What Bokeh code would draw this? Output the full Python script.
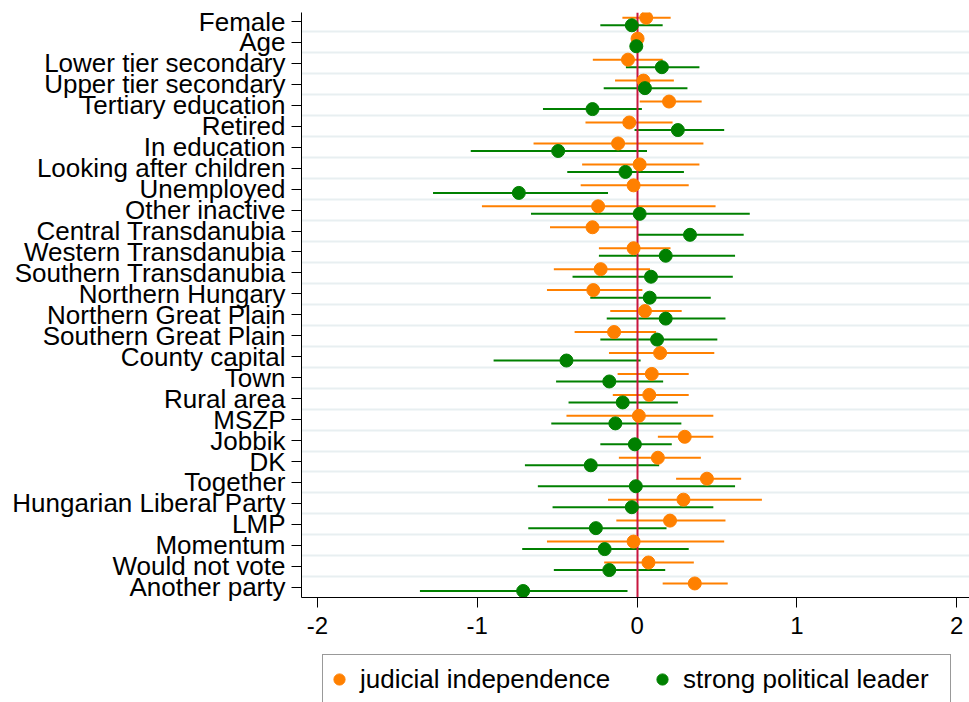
from bokeh.plotting import figure
from bokeh.layouts import column
from bokeh.models import (ColumnDataSource, Range1d, FixedTicker, Legend, LegendItem)
from bokeh.embed import file_html
from bokeh.resources import INLINE

# Covariates, listed top to bottom
categories = [
    "Female", "Age", "Lower tier secondary", "Upper tier secondary",
    "Tertiary education", "Retired", "In education", "Looking after children",
    "Unemployed", "Other inactive", "Central Transdanubia", "Western Transdanubia",
    "Southern Transdanubia", "Northern Hungary", "Northern Great Plain",
    "Southern Great Plain", "County capital", "Town", "Rural area", "MSZP",
    "Jobbik", "DK", "Together", "Hungarian Liberal Party", "LMP", "Momentum",
    "Would not vote", "Another party",
]

# Judicial independence: point estimate and 95% interval
ji_coef = [0.057, 0.003, -0.057, 0.040, 0.200, -0.049, -0.119, 0.016, -0.022, -0.244,
           -0.279, -0.022, -0.228, -0.274, 0.049, -0.144, 0.144, 0.092, 0.076, 0.011,
           0.298, 0.130, 0.437, 0.290, 0.206, -0.022, 0.071, 0.361]
ji_lo = [-0.092, -0.010, -0.277, -0.138, 0.016, -0.323, -0.648, -0.344, -0.353, -0.971,
         -0.545, -0.239, -0.521, -0.564, -0.168, -0.391, -0.176, -0.122, -0.152, -0.442,
         0.130, -0.114, 0.244, -0.182, -0.130, -0.564, -0.206, 0.160]
ji_hi = [0.210, 0.015, 0.160, 0.230, 0.404, 0.222, 0.415, 0.390, 0.323, 0.491,
         0.000, 0.209, 0.081, 0.033, 0.279, 0.119, 0.483, 0.323, 0.323, 0.477,
         0.477, 0.399, 0.651, 0.781, 0.553, 0.545, 0.355, 0.567]

# Strong political leader: point estimate and 95% interval
spl_coef = [-0.033, -0.005, 0.155, 0.049, -0.279, 0.255, -0.494, -0.073, -0.740, 0.016,
            0.331, 0.179, 0.087, 0.079, 0.179, 0.125, -0.442, -0.174, -0.090, -0.136,
            -0.014, -0.290, -0.008, -0.033, -0.258, -0.203, -0.174, -0.713]
spl_lo = [-0.230, -0.017, -0.070, -0.209, -0.589, -0.016, -1.041, -0.437, -1.277, -0.664,
          0.005, -0.239, -0.404, -0.293, -0.190, -0.230, -0.898, -0.507, -0.429, -0.537,
          -0.230, -0.702, -0.621, -0.529, -0.681, -0.719, -0.521, -1.359]
spl_hi = [0.160, 0.007, 0.390, 0.315, 0.030, 0.545, 0.062, 0.293, -0.182, 0.705,
          0.667, 0.613, 0.599, 0.461, 0.553, 0.502, 0.022, 0.163, 0.255, 0.277,
          0.217, 0.138, 0.613, 0.477, 0.184, 0.323, 0.176, -0.060]

x_ticks = [-2, -1, 0, 1, 2]
x_tick_labels = ["-2", "-1", "0", "1", "2"]

series_names = ["judicial independence", "strong political leader"]

ORANGE = "#ff8000"
GREEN = "#008000"
ZERO_RED = "#c8163f"
FONT = "Liberation Sans"

n = len(categories)
rows = [n - i for i in range(n)]          # first category on top
offset = 0.18

ji_src = ColumnDataSource(dict(
    y=[r + offset for r in rows], coef=ji_coef, lo=ji_lo, hi=ji_hi))
spl_src = ColumnDataSource(dict(
    y=[r - offset for r in rows], coef=spl_coef, lo=spl_lo, hi=spl_hi))

p = figure(width=969, height=650,
           x_range=Range1d(-2.1, 2.08), y_range=Range1d(0.51, n + 0.43),
           output_backend="svg", toolbar_location=None,
           min_border_left=301, min_border_right=0,
           min_border_top=12, min_border_bottom=53)
p.outline_line_color = None
p.background_fill_color = "white"
p.border_fill_color = "white"

# confidence intervals
p.segment(x0="lo", y0="y", x1="hi", y1="y", source=ji_src,
          line_color=ORANGE, line_width=2)
p.segment(x0="lo", y0="y", x1="hi", y1="y", source=spl_src,
          line_color=GREEN, line_width=2)

# reference line at zero
p.vspan(x=[0], line_color=ZERO_RED, line_width=2)

# point estimates
p.scatter(x="coef", y="y", source=ji_src, marker="circle", size=13,
          fill_color=ORANGE, line_color=ORANGE)
p.scatter(x="coef", y="y", source=spl_src, marker="circle", size=13,
          fill_color=GREEN, line_color=GREEN)

# axes
p.xaxis.ticker = FixedTicker(ticks=x_ticks)
p.xaxis.major_label_overrides = {t: s for t, s in zip(x_ticks, x_tick_labels)}
p.xaxis.major_tick_out = 10
p.xaxis.major_tick_in = 0
p.xaxis.minor_tick_line_color = None
p.xaxis.major_label_standoff = 9
p.xaxis.major_label_text_font = FONT
p.xaxis.major_label_text_font_size = "24px"
p.xaxis.major_label_text_color = "black"
p.xaxis.axis_line_color = "black"
p.xaxis.major_tick_line_color = "black"

p.yaxis.ticker = FixedTicker(ticks=rows)
p.yaxis.major_label_overrides = {r: c for r, c in zip(rows, categories)}
p.yaxis.major_tick_out = 10
p.yaxis.major_tick_in = 0
p.yaxis.minor_tick_line_color = None
p.yaxis.major_label_standoff = 6
p.yaxis.major_label_text_font = FONT
p.yaxis.major_label_text_font_size = "26px"
p.yaxis.major_label_text_color = "black"
p.yaxis.axis_line_color = "black"
p.yaxis.major_tick_line_color = "black"

# grid lines between rows
p.xgrid.visible = False
p.ygrid.ticker = FixedTicker(ticks=[r + 0.5 for r in range(1, n)])
p.ygrid.grid_line_color = "#e8eff1"
p.ygrid.grid_line_width = 2

# legend strip underneath the chart
leg = figure(width=969, height=52, output_backend="svg", toolbar_location=None,
             x_axis_type=None, y_axis_type=None,
             x_range=Range1d(-2.1, 2.08), y_range=Range1d(0, 1),
             min_border_left=301, min_border_right=0,
             min_border_top=0, min_border_bottom=0)
leg.outline_line_color = None
leg.grid.visible = False
leg.background_fill_color = "white"
leg.border_fill_color = "white"

# legend keys share the series styling; the points themselves stay hidden here
key_ji = leg.scatter(x="coef", y="y", source=ji_src, marker="circle", size=13,
                     fill_color=ORANGE, line_color=ORANGE, visible=False)
key_spl = leg.scatter(x="coef", y="y", source=spl_src, marker="circle", size=13,
                      fill_color=GREEN, line_color=GREEN, visible=False)

legend = Legend(
    items=[LegendItem(label=series_names[0], renderers=[key_ji]),
           LegendItem(label=series_names[1], renderers=[key_spl])],
    orientation="horizontal", location=(21, -2),
    glyph_width=28, glyph_height=44, padding=2, spacing=23,
    label_standoff=7, label_width=265, margin=0,
    label_text_font=FONT, label_text_font_size="26px", label_text_color="black",
    border_line_color="#333333", border_line_width=1,
    background_fill_color="white", background_fill_alpha=1.0,
)
leg.add_layout(legend, "center")

layout = column(p, leg, spacing=0)
open("out.html", "w").write(file_html(layout, INLINE))
